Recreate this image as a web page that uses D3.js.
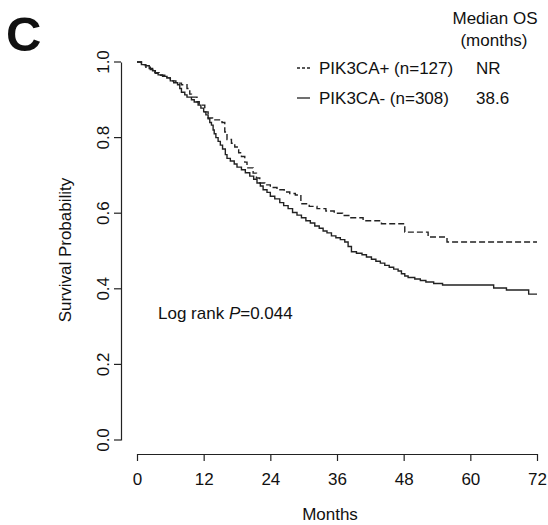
<!DOCTYPE html>
<html>
<head>
<meta charset="utf-8">
<script src="https://cdn.jsdelivr.net/npm/d3@7"></script>
<style>
  body { margin: 0; background: #fff; }
  text { font-family: "Liberation Sans", Arial, sans-serif; fill: #111; }
</style>
</head>
<body>
<div id="chart"></div>
<script>
// tick labels
const xTicks = [0, 12, 24, 36, 48, 60, 72];
const yTicks = [0.0, 0.2, 0.4, 0.6, 0.8, 1.0];

// PIK3CA- (n=308), solid : [month, survival] step points
const negMonths = [0, 0.8, 1.5, 2.2, 2.8, 3.3, 3.8, 4.6, 5.4, 6.0, 6.6, 7.3, 7.7, 8.0, 8.6, 9.0, 9.8, 10.3, 11.0, 11.5,
  12.0, 12.4, 12.8, 13.1, 13.4, 13.7, 13.9, 14.2, 14.6, 15.0, 15.4, 15.9, 16.2, 16.8, 17.5, 18.0, 18.8, 19.5, 20.3, 21.0,
  21.6, 22.2, 22.7, 23.4, 24.0, 24.8, 25.7, 26.4, 27.2, 28.0, 28.8, 29.6, 30.4, 31.2, 32.0, 32.8, 33.5, 34.2, 35.0, 35.8,
  36.6, 37.4, 38.0, 38.6, 39.5, 40.5, 41.3, 42.2, 43.0, 43.8, 44.6, 45.4, 46.2, 47.0, 47.6, 48.2, 48.8, 50.0, 51.0, 52.0,
  53.4, 55.0, 64.2, 66.5, 70.5, 72];
const negSurv = [1.0, 0.993, 0.99, 0.983, 0.977, 0.97, 0.966, 0.962, 0.958, 0.95, 0.945, 0.94, 0.93, 0.92, 0.913, 0.907, 0.9, 0.894, 0.886, 0.878,
  0.868, 0.86, 0.85, 0.84, 0.833, 0.82, 0.81, 0.8, 0.79, 0.78, 0.77, 0.755, 0.745, 0.738, 0.73, 0.722, 0.715, 0.707, 0.698, 0.69,
  0.68, 0.672, 0.662, 0.655, 0.645, 0.638, 0.628, 0.62, 0.612, 0.602, 0.595, 0.588, 0.58, 0.574, 0.566, 0.56, 0.553, 0.548, 0.54, 0.535,
  0.53, 0.524, 0.512, 0.498, 0.494, 0.49, 0.484, 0.478, 0.473, 0.468, 0.462, 0.457, 0.452, 0.447, 0.44, 0.434, 0.43, 0.426, 0.422, 0.418,
  0.414, 0.41, 0.402, 0.397, 0.386, 0.386];

// PIK3CA+ (n=127), dashed
const posMonths = [0, 0.8, 1.6, 2.4, 3.2, 4.0, 5.0, 6.0, 7.0, 8.0, 9.0, 9.5, 9.8, 10.8, 11.2, 12.2, 12.8, 13.6, 15.3, 15.8,
  16.2, 17.0, 17.6, 18.3, 18.8, 19.4, 19.8, 20.9, 21.5, 22.1, 23.0, 24.0, 25.2, 26.5, 27.5, 28.5, 29.5, 31.0, 32.4, 34.0,
  35.5, 37.0, 38.5, 40.7, 44.0, 48.2, 52.4, 55.8, 72];
const posSurv = [1.0, 0.993, 0.986, 0.98, 0.972, 0.965, 0.958, 0.95, 0.944, 0.94, 0.93, 0.915, 0.907, 0.895, 0.886, 0.868, 0.852, 0.847, 0.84, 0.815,
  0.795, 0.785, 0.775, 0.76, 0.75, 0.735, 0.72, 0.706, 0.693, 0.68, 0.675, 0.668, 0.662, 0.656, 0.652, 0.648, 0.625, 0.618, 0.612, 0.606,
  0.6, 0.594, 0.588, 0.58, 0.572, 0.55, 0.537, 0.524, 0.524];

const W = 548, H = 525;
const x = d3.scaleLinear().domain([0, 72]).range([137, 537]);
const y = d3.scaleLinear().domain([0, 1]).range([440, 62]);

const svg = d3.select("#chart").append("svg")
  .attr("width", W).attr("height", H);

// panel letter
svg.append("text").attr("x", 6).attr("y", 51)
  .style("font-size", "49px").style("font-weight", "bold").text("C");

// y axis (R style, offset)
const yAxis = svg.append("g")
  .attr("transform", "translate(121,0)")
  .call(d3.axisLeft(y).tickValues(yTicks).tickSize(7).tickSizeOuter(0).tickFormat(d3.format(".1f")));
yAxis.selectAll("text")
  .attr("transform", d => `translate(${-18},${y(d)}) rotate(-90)`)
  .attr("x", 0).attr("y", 0).attr("dy", "0.35em")
  .style("text-anchor", "middle").style("font-size", "17px");
yAxis.selectAll(".tick").attr("transform", null);
yAxis.selectAll(".tick line").attr("y1", d => y(d)).attr("y2", d => y(d));

// x axis
const xAxis = svg.append("g")
  .attr("transform", "translate(0,454)")
  .call(d3.axisBottom(x).tickValues(xTicks).tickSize(7).tickSizeOuter(0));
xAxis.selectAll("text").attr("y", 19).style("font-size", "17px");

svg.selectAll(".domain").attr("stroke", "#222").attr("stroke-width", 1.2);
svg.selectAll(".tick line").attr("stroke", "#222").attr("stroke-width", 1.2);

// axis titles
svg.append("text").attr("x", 330).attr("y", 520)
  .attr("text-anchor", "middle").style("font-size", "17px").text("Months");
svg.append("text")
  .attr("transform", "translate(71,250) rotate(-90)")
  .attr("text-anchor", "middle").style("font-size", "17px").text("Survival Probability");

// curves
const line = d3.line().curve(d3.curveStepAfter)
  .x(d => x(d[0])).y(d => y(d[1]));

const negData = negMonths.map((m, i) => [m, negSurv[i]]);
const posData = posMonths.map((m, i) => [m, posSurv[i]]);

svg.append("path").datum(negData)
  .attr("d", line).attr("fill", "none")
  .attr("stroke", "#222").attr("stroke-width", 1.4);

svg.append("path").datum(posData)
  .attr("d", line).attr("fill", "none")
  .attr("stroke", "#222").attr("stroke-width", 1.4)
  .attr("stroke-dasharray", "6,3");

// legend
svg.append("text").attr("x", 495).attr("y", 24)
  .attr("text-anchor", "middle").style("font-size", "17px").text("Median OS");
svg.append("text").attr("x", 494).attr("y", 46)
  .attr("text-anchor", "middle").style("font-size", "17px").text("(months)");

const legend = [
  { label: "PIK3CA+ (n=127)", med: "NR", dash: "3,2", y: 68 },
  { label: "PIK3CA- (n=308)", med: "38.6", dash: null, y: 98 }
];
legend.forEach(l => {
  svg.append("line").attr("x1", 297).attr("x2", 310)
    .attr("y1", l.y).attr("y2", l.y)
    .attr("stroke", "#222").attr("stroke-width", 1.3)
    .attr("stroke-dasharray", l.dash);
  svg.append("text").attr("x", 319).attr("y", l.y + 6)
    .style("font-size", "17px").text(l.label);
  svg.append("text").attr("x", 476).attr("y", l.y + 6)
    .style("font-size", "17px").text(l.med);
});

// log rank
const lr = svg.append("text").attr("x", 158).attr("y", 319).style("font-size", "17px");
lr.append("tspan").text("Log rank ");
lr.append("tspan").style("font-style", "italic").text("P");
lr.append("tspan").text("=0.044");
</script>
</body>
</html>
